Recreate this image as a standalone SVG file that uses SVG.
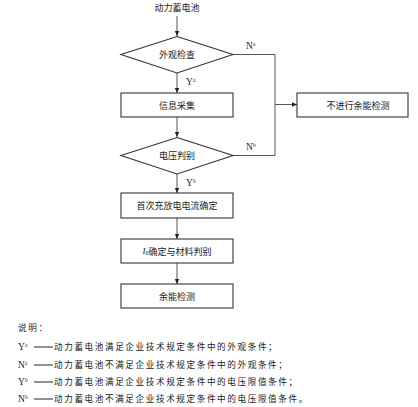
<svg xmlns="http://www.w3.org/2000/svg" width="418" height="407" viewBox="0 0 418 407">
<defs>
<marker id="ah" markerWidth="6" markerHeight="6" refX="5" refY="3" orient="auto" markerUnits="userSpaceOnUse">
<path d="M0,0.8 L5,3 L0,5.2 Z" fill="#222"/>
</marker>
<style>
.s{fill:#fff;stroke:#333;stroke-width:1.1}
.c{fill:none;stroke:#444;stroke-width:0.9}
.t{font-family:"Noto Sans CJK SC","Liberation Serif",serif;font-size:9px;fill:#222;text-anchor:middle;dominant-baseline:central}
.l{font-family:"Noto Sans CJK SC","Liberation Serif",serif;font-size:8.6px;fill:#222;letter-spacing:1.6px}
.y{font-family:"Liberation Serif",serif;font-size:9.5px;fill:#222}
.sup{font-size:5.5px}
</style>
</defs>
<rect width="418" height="407" fill="#fff"/>
<g id="connectors">
<line class="c" x1="177" y1="16" x2="177" y2="36" marker-end="url(#ah)"/>
<line class="c" x1="177" y1="73" x2="177" y2="93" marker-end="url(#ah)"/>
<line class="c" x1="177" y1="117" x2="177" y2="137" marker-end="url(#ah)"/>
<line class="c" x1="177" y1="174" x2="177" y2="193" marker-end="url(#ah)"/>
<line class="c" x1="177" y1="218" x2="177" y2="239" marker-end="url(#ah)"/>
<line class="c" x1="177" y1="263" x2="177" y2="284" marker-end="url(#ah)"/>
<polyline class="c" points="233,54.5 275,54.5 275,155.5 233,155.5"/>
<line class="c" x1="275" y1="104.5" x2="297" y2="104.5" marker-end="url(#ah)"/>
<text class="y" x="246" y="49">N<tspan class="sup" dy="-3">a</tspan></text>
<text class="y" x="186" y="85">Y<tspan class="sup" dy="-3">a</tspan></text>
<text class="y" x="246" y="150">N<tspan class="sup" dy="-3">b</tspan></text>
<text class="y" x="186" y="186">Y<tspan class="sup" dy="-3">b</tspan></text>
</g>
<g id="start"><text class="t" x="177" y="7">动力蓄电池</text></g>
<g id="d1"><polygon class="s" points="177,36.5 233,54.5 177,73 121,54.5"/><text class="t" x="177" y="54.5">外观检查</text></g>
<g id="b1"><rect class="s" x="121" y="93" width="112" height="24"/><text class="t" x="177" y="105">信息采集</text></g>
<g id="b2"><rect class="s" x="297" y="93" width="111" height="24"/><text class="t" x="358" y="105">不进行余能检测</text></g>
<g id="d2"><polygon class="s" points="177,137.5 233,155.5 177,174 121,155.5"/><text class="t" x="177" y="155.5">电压判别</text></g>
<g id="b3"><rect class="s" x="121" y="193" width="112" height="25"/><text class="t" x="177" y="205.5">首次充放电电流确定</text></g>
<g id="b4"><rect class="s" x="121" y="239" width="112" height="24"/><text class="t" x="177" y="251"><tspan font-family="Liberation Serif" font-style="italic">I</tspan><tspan font-family="Liberation Serif" font-size="6" dy="2">0</tspan><tspan dy="-2">确定与材料判别</tspan></text></g>
<g id="b5"><rect class="s" x="121" y="284" width="112" height="24"/><text class="t" x="177" y="296">余能检测</text></g>
<g id="legend">
<text class="l" x="18" y="331">说明：</text>
<text class="y" x="18" y="350">Y<tspan class="sup" dy="-3">a</tspan></text>
<text class="y" x="18" y="368">N<tspan class="sup" dy="-3">a</tspan></text>
<text class="y" x="18" y="385">Y<tspan class="sup" dy="-3">b</tspan></text>
<text class="y" x="18" y="402">N<tspan class="sup" dy="-3">b</tspan></text>
<g stroke="#222" stroke-width="1">
<line x1="34" y1="347" x2="53" y2="347"/>
<line x1="34" y1="365" x2="53" y2="365"/>
<line x1="34" y1="382" x2="53" y2="382"/>
<line x1="34" y1="399" x2="53" y2="399"/>
</g>
<text class="l" x="54" y="350">动力蓄电池满足企业技术规定条件中的外观条件；</text>
<text class="l" x="54" y="368">动力蓄电池不满足企业技术规定条件中的外观条件；</text>
<text class="l" x="54" y="385">动力蓄电池满足企业技术规定条件中的电压限值条件；</text>
<text class="l" x="54" y="402">动力蓄电池不满足企业技术规定条件中的电压限值条件。</text>
</g>
</svg>
